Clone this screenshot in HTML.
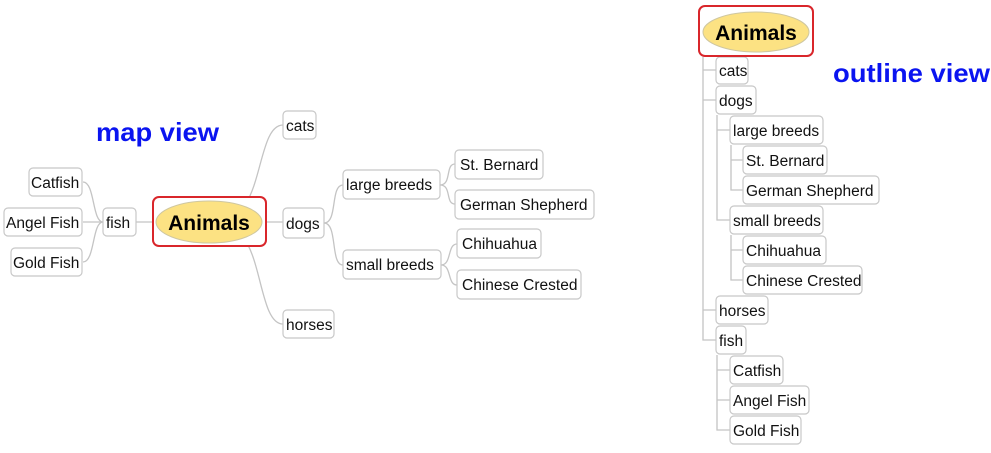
<!DOCTYPE html>
<html><head><style>
body{margin:0;background:#fff;width:991px;height:448px;overflow:hidden}
svg text{font-family:"Liberation Sans",sans-serif;font-size:15.5px;fill:#111}
</style></head><body>
<svg width="991" height="448" xmlns="http://www.w3.org/2000/svg">
<g fill="none" stroke="#c4c4c4" stroke-width="1.3">
<path d="M136 222 H156"/>
<path d="M103 222 H83"/>
<path d="M103 222 C92 222 95 182 83 182"/>
<path d="M103 222 C92 222 95 262 83 262"/>
<path d="M262 222 H283"/>
<path d="M245 205 C262 180 262 125 283 125"/>
<path d="M245 240 C262 265 262 324 283 324"/>
<path d="M324 223 C338 223 330 185 343 185"/>
<path d="M324 223 C338 223 330 265 343 265"/>
<path d="M440 185 C452 185 445 164 455 164"/>
<path d="M440 185 C452 185 445 204 455 204"/>
<path d="M441 265 C452 265 447 244 457 244"/>
<path d="M441 265 C452 265 447 285 457 285"/>
<path d="M703 57 V340 H716"/>
<path d="M703 70 H716 M703 100 H716 M703 310 H716"/>
<path d="M717 115 V220 H730 M717 130 H730"/>
<path d="M731 145 V190 H743 M731 160 H743"/>
<path d="M731 235 V280 H743 M731 250 H743"/>
<path d="M717 355 V430 H730 M717 370 H730 M717 400 H730"/>
</g>
<g fill="#fff" stroke="#c8c8c8" stroke-width="1.2">
<rect x="29" y="168" width="53" height="28" rx="4"/>
<rect x="4" y="208" width="78" height="28" rx="4"/>
<rect x="11" y="248" width="71" height="28" rx="4"/>
<rect x="103" y="208" width="33" height="28" rx="4"/>
<rect x="283" y="208" width="41" height="30" rx="4"/>
<rect x="283" y="111" width="33" height="28" rx="4"/>
<rect x="283" y="310" width="51" height="28" rx="4"/>
<rect x="343" y="170" width="97" height="29" rx="4"/>
<rect x="343" y="250" width="98" height="29" rx="4"/>
<rect x="455" y="150" width="88" height="29" rx="4"/>
<rect x="455" y="190" width="139" height="29" rx="4"/>
<rect x="457" y="229" width="84" height="29" rx="4"/>
<rect x="457" y="270" width="124" height="29" rx="4"/>

<rect x="716" y="57" width="32" height="27" rx="4"/>
<rect x="716" y="86" width="40" height="28" rx="4"/>
<rect x="730" y="116" width="93" height="28" rx="4"/>
<rect x="743" y="146" width="84" height="28" rx="4"/>
<rect x="743" y="176" width="136" height="28" rx="4"/>
<rect x="730" y="206" width="93" height="28" rx="4"/>
<rect x="743" y="236" width="83" height="28" rx="4"/>
<rect x="743" y="266" width="119" height="28" rx="4"/>
<rect x="716" y="296" width="52" height="28" rx="4"/>
<rect x="716" y="326" width="30" height="28" rx="4"/>
<rect x="730" y="356" width="53" height="28" rx="4"/>
<rect x="730" y="386" width="79" height="28" rx="4"/>
<rect x="730" y="416" width="71" height="28" rx="4"/>
</g>
<rect x="153" y="197" width="113" height="49" rx="6" fill="#fff" stroke="#d9262b" stroke-width="2"/>
<ellipse cx="209" cy="222" rx="53" ry="21" fill="#fce283" stroke="#cfc7a0" stroke-width="1"/>
<text x="209" y="230" text-anchor="middle" style="font-size:21px;font-weight:bold;fill:#000">Animals</text>
<rect x="699" y="6" width="114" height="50" rx="6" fill="#fff" stroke="#d9262b" stroke-width="2"/>
<ellipse cx="756" cy="32" rx="53" ry="20" fill="#fce283" stroke="#cfc7a0" stroke-width="1"/>
<text x="756" y="40" text-anchor="middle" style="font-size:21px;font-weight:bold;fill:#000">Animals</text>
<text x="31" y="188">Catfish</text>
<text x="6" y="228">Angel Fish</text>
<text x="13" y="268">Gold Fish</text>
<text x="106" y="228">fish</text>
<text x="286" y="229">dogs</text>
<text x="286" y="131">cats</text>
<text x="286" y="330">horses</text>
<text x="346" y="190">large breeds</text>
<text x="346" y="270">small breeds</text>
<text x="460" y="170">St. Bernard</text>
<text x="460" y="210">German Shepherd</text>
<text x="462" y="249">Chihuahua</text>
<text x="462" y="290">Chinese Crested</text>
<text x="719" y="76">cats</text>
<text x="719" y="106">dogs</text>
<text x="733" y="136">large breeds</text>
<text x="746" y="166">St. Bernard</text>
<text x="746" y="196">German Shepherd</text>
<text x="733" y="226">small breeds</text>
<text x="746" y="256">Chihuahua</text>
<text x="746" y="286">Chinese Crested</text>
<text x="719" y="316">horses</text>
<text x="719" y="346">fish</text>
<text x="733" y="376">Catfish</text>
<text x="733" y="406">Angel Fish</text>
<text x="733" y="436">Gold Fish</text>
<text x="96" y="141" textLength="123" lengthAdjust="spacingAndGlyphs" style="font-size:26px;font-weight:bold;fill:#0a14f0">map view</text>
<text x="833" y="82" textLength="157" lengthAdjust="spacingAndGlyphs" style="font-size:26px;font-weight:bold;fill:#0a14f0">outline view</text>
</svg>
</body></html>
